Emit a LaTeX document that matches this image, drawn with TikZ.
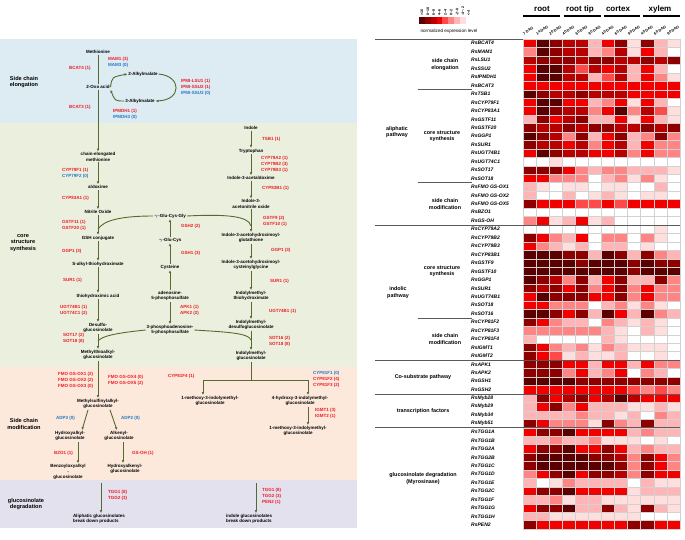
\documentclass[tikz,border=0pt]{standalone}
\usepackage{fontspec}
\setmainfont{Liberation Sans}
\usetikzlibrary{arrows.meta, positioning, calc}
\definecolor{olive}{HTML}{56692E}
\definecolor{enzRed}{HTML}{EC1C24}
\definecolor{enzBlue}{HTML}{2478C0}
\definecolor{elongFill}{HTML}{DDEBF3}
\definecolor{coreFill}{HTML}{EBF0DE}
\definecolor{modFill}{HTML}{FCE9DC}
\definecolor{degFill}{HTML}{E4E1EE}
\definecolor{hm0}{HTML}{5A0000}
\definecolor{hm1}{HTML}{8E0000}
\definecolor{hm2}{HTML}{B80000}
\definecolor{hm3}{HTML}{F20000}
\definecolor{hm4}{HTML}{FF4A4A}
\definecolor{hm5}{HTML}{FF8585}
\definecolor{hm6}{HTML}{FFB5B5}
\definecolor{hm7}{HTML}{FFDEDE}
\definecolor{hm8}{HTML}{FFFFFF}
\definecolor{gridGray}{HTML}{D2D2D2}
\definecolor{ruleGray}{HTML}{5A5A5A}
\def\HX{522.7}
\def\HY{39}
\def\CW{13.1}
\def\RH{8.45}
\def\GX{471}

\begin{document}
\begin{tikzpicture}[
    x=1pt, y=-1pt,
    cmpd/.style={font=\fontsize{4.5}{5.6}\selectfont\bfseries, align=center,
                 inner sep=0.8pt},
    enz/.style={font=\fontsize{4.5}{6}\selectfont\bfseries, align=left,
                inner sep=0pt, anchor=west, text=enzRed},
    flow/.style={-{Latex[length=3pt,width=2.6pt]}, line width=0.9pt, draw=olive},
    joinline/.style={line width=0.9pt, draw=olive},
    stagelbl/.style={font=\fontsize{5.6}{6.8}\selectfont\bfseries, align=center},
    gene/.style={font=\fontsize{5}{6}\selectfont\bfseries\itshape, anchor=west,
                 inner sep=0pt},
    grp/.style={font=\fontsize{5.4}{6.6}\selectfont\bfseries, align=center},
    tissue/.style={font=\fontsize{8}{9}\selectfont\bfseries},
    dag/.style={font=\fontsize{3.8}{4}\selectfont\bfseries, rotate=35,
                anchor=south west, inner sep=0pt},
    lgd/.style={font=\fontsize{3.6}{4}\selectfont\bfseries, rotate=90,
                anchor=west, inner sep=0pt},
    hmcell/.style={draw=gridGray, line width=0.4pt},
    hmrule/.style={draw=ruleGray, line width=0.6pt},
    ]
\useasboundingbox (0,0) rectangle (685,539);
\fill[white] (0,0) rectangle (685,539);

% ====================================================================
% Pathway panel
% ====================================================================
% Stage bands
\fill[elongFill] (0,39) rectangle (357,123);
\fill[coreFill] (0,123) rectangle (357,367);
\fill[modFill] (0,367) rectangle (357,480);
\fill[degFill] (0,480) rectangle (357,528);

\node[stagelbl] (stElong) at (24,82) {Side chain\\elongation};
\node[stagelbl] (stCore) at (23,243) {core\\structure\\synthesis};
\node[stagelbl] (stMod) at (24,424) {Side chain\\modification};
\node[stagelbl] (stDeg) at (26,504) {glucosinolate\\degradation};

% Aliphatic branch
\node[cmpd] (meth) at (98,52) {Methionine};
\node[cmpd] (oxo) at (98,87) {2-Oxo acid};
\node[cmpd] (amal2) at (143,74) {2-Alkylmalate};
\node[cmpd] (amal3) at (140,101) {3-Alkylmalate};
\node[cmpd] (celm) at (98,157) {chain-elongated\\methionine};
\node[cmpd] (aldox) at (98,187) {aldoxime};
\node[cmpd] (nitox) at (98,212) {Nitrile Oxide};
\node[cmpd] (gshc) at (98,238) {GSH conjugate};
\node[cmpd] (salk) at (98,264) {S-alkyl-thiohydroximate};
\node[cmpd] (thacid) at (98,296) {thiohydroximic acid};
\node[cmpd] (desulf) at (98,328) {Desulfo-\\glucosinolate};
\node[cmpd] (mtag) at (98,355) {Methylthioalkyl-\\glucosinolate};
\node[cmpd] (msag) at (98,404) {Methylsulfinylalkyl-\\glucosinolate};
\node[cmpd] (hyag) at (70,436) {Hydroxyalkyl-\\glucosinolate};
\node[cmpd] (alkg) at (119,436) {Alkenyl-\\glucosinolate};
\node[cmpd] (bzag) at (68,472) {Benzoyloxyalkyl\\-\\glucosinolate};
\node[cmpd] (hakg) at (125,469) {Hydroxyalkenyl-\\glucosinolate};
\node[cmpd, align=left, anchor=west] (alibd) at (72,519)
  {Aliphatic glucosinolates\\break down products};

% Co-substrate branch
\node[cmpd] (ggcg) at (170,216) {$\gamma$-Glu-Cys-Gly};
\node[cmpd] (ggc) at (170,240) {$\gamma$-Glu-Cys};
\node[cmpd] (cys) at (170,267) {Cysteine};
\node[cmpd] (aps) at (170,296) {adenosine-\\5-phosphosulfate};
\node[cmpd] (paps) at (170,330) {3-phosphoadenosine-\\5-phosphosulfate};

% Indolic branch
\node[cmpd] (indole) at (251,128) {Indole};
\node[cmpd] (trp) at (251,151) {Tryptophan};
\node[cmpd] (iaox) at (251,178) {Indole-3-acetaldoxime};
\node[cmpd] (ianox) at (251,204) {Indole-3-\\acetonitrile oxide};
\node[cmpd] (iagsh) at (251,238) {Indole-3-acetohydroximoyl-\\glutathione};
\node[cmpd] (iacg) at (251,265) {Indole-3-acetohydroximoyl-\\cysteinylglycine};
\node[cmpd] (imth) at (251,296) {Indolylmethyl-\\thiohydroximate};
\node[cmpd] (imdg) at (251,325) {Indolylmethyl-\\desulfoglucosinolate};
\node[cmpd] (img) at (251,356) {Indolylmethyl-\\glucosinolate};
\node[cmpd] (m1img) at (210,401) {1-methoxy-3-indolymethyl-\\glucosinolate};
\node[cmpd] (h4img) at (300,401) {4-hydroxy-3-indolymethyl-\\glucosinolate};
\node[cmpd] (m4img) at (298,431) {1-methoxy-3-indolymethyl-\\glucosinolate};
\node[cmpd, align=left, anchor=west] (indbd) at (225,519)
  {indole glucosinolates\\break down products};

% Enzymes (gene copy numbers)
\node[enz] (eBCAT4) at (69,68) {BCAT4 (1)};
\node[enz] (eMAM) at (108,62) {MAM1 (3)\\\textcolor{enzBlue}{MAM3 (0)}};
\node[enz] (eIPMI) at (181,87.5)
  {IPMI-LSU1 (1)\\IPMI-SSU2 (1)\\\textcolor{enzBlue}{IPMI-SSU3 (0)}};
\node[enz] (eBCAT3) at (69,107) {BCAT3 (1)};
\node[enz] (eIPMDH) at (113,114.5) {IPMDH1 (1)\\\textcolor{enzBlue}{IPMDH3 (0)}};
\node[enz] (eCYP79F) at (62,173.5) {CYP79F1 (1)\\\textcolor{enzBlue}{CYP79F2 (0)}};
\node[enz] (eCYP83A1) at (62,198) {CYP83A1 (1)};
\node[enz] (eGSTFa) at (62,225) {GSTF11 (1)\\GSTF20 (1)};
\node[enz] (eGGPa) at (62,251) {GGP1 (3)};
\node[enz] (eSURa) at (63,280) {SUR1 (1)};
\node[enz] (eUGTa) at (60,310.5) {UGT74B1 (1)\\UGT74C1 (2)};
\node[enz] (eSOTa) at (63,338.5) {SOT17 (2)\\SOT18 (8)};
\node[enz] (eGSH2) at (181,226) {GSH2 (2)};
\node[enz] (eGSH1) at (181,253) {GSH1 (3)};
\node[enz] (eAPK) at (180,310.5) {APK1 (1)\\APK2 (2)};
\node[enz] (eTSB1) at (262,139) {TSB1 (1)};
\node[enz] (eCYP79B) at (261,164) {CYP79A2 (1)\\CYP79B2 (3)\\CYP79B3 (1)};
\node[enz] (eCYP83B1) at (262,188) {CYP83B1 (1)};
\node[enz] (eGSTFi) at (263,221) {GSTF9 (2)\\GSTF10 (1)};
\node[enz] (eGGPi) at (271,250) {GGP1 (3)};
\node[enz] (eSURi) at (270,281) {SUR1 (1)};
\node[enz] (eUGTi) at (269,311) {UGT74B1 (1)};
\node[enz] (eSOTi) at (269,341) {SOT16 (2)\\SOT18 (8)};
\node[enz] (eCYP81F4) at (168,376) {CYP81F4 (1)};
\node[enz] (eCYP81F) at (313,379)
  {\textcolor{enzBlue}{CYP81F1 (0)}\\CYP81F2 (4)\\CYP81F3 (2)};
\node[enz] (eIGMT) at (315,413) {IGMT1 (3)\\IGMT2 (1)};
\node[enz] (eFMOa) at (58,380.5) {FMO GS-OX1 (2)\\FMO GS-OX2 (2)\\FMO GS-OX3 (0)};
\node[enz] (eFMOb) at (108,380) {FMO GS-OX4 (0)\\FMO GS-OX5 (2)};
\node[enz, text=enzBlue] (eADP3) at (56,418) {ADP3 (0)};
\node[enz, text=enzBlue] (eADP2) at (121,418) {ADP2 (0)};
\node[enz] (eBZO1) at (54,453) {BZO1 (1)};
\node[enz] (eGSOH) at (132,453) {GS-OH (1)};
\node[enz] (eTGGa) at (108,495) {TGG1 (8)\\TGG2 (3)};
\node[enz] (eTGGi) at (262,496) {TGG1 (8)\\TGG2 (3)\\PEN2 (1)};

% Junction points
\coordinate (jA) at (98,229);
\coordinate (jB) at (98,341);
\coordinate (jC) at (251,226);
\coordinate (jD) at (251,340);
\coordinate (brc) at (251,380);
\coordinate (brl) at (203,380);
\coordinate (brr) at (308,380);
\coordinate (bzx) at (78,0);
\coordinate (hkx) at (123,0);
\coordinate (alideg) at (101,483);
\coordinate (inddeg) at (256,483);

% Aliphatic arrows
\draw[joinline] (meth) -- (oxo);
\draw[flow] (oxo) -- (celm);
\draw[flow] (oxo.east) .. controls (112,77) .. (amal2.west);
\draw[flow] (amal2.east) .. controls (182,76) and (182,100) .. (amal3.east);
\draw[flow] (amal3.west) .. controls (115,101) .. (oxo.south east);
\draw[flow] (celm) -- (aldox);
\draw[flow] (aldox) -- (nitox);
\draw[flow] (nitox) -- (gshc);
\draw[flow] (gshc) -- (salk);
\draw[flow] (salk) -- (thacid);
\draw[flow] (thacid) -- (desulf);
\draw[flow] (desulf) -- (mtag);
\draw[flow] (mtag) -- (msag);
\draw[flow] ($(msag.south)+(-10,0)$) -- ($(hyag.north)+(12,0)$);
\draw[flow] ($(msag.south)+(12,0)$) -- ($(alkg.north)+(-2,0)$);
\draw[flow] (hyag.south -| bzx) -- (bzx |- bzag.north);
\draw[flow] (alkg.south -| hkx) -- (hkx |- hakg.north);
\draw[flow] (alideg) -- (alideg |- alibd.north);

% Co-substrate arrows and links
\draw[flow] (cys) -- (ggc);
\draw[flow] (ggc) -- (ggcg);
\draw[flow] (aps) -- (cys);
\draw[flow] (aps) -- (paps);
\draw[joinline] (ggcg.west) .. controls (122,216) and (104,220) .. (jA);
\draw[joinline] (ggcg.east) .. controls (226,214) and (249,216) .. (jC);
\draw[joinline] (paps.west) .. controls (116,333) and (102,336) .. (jB);
\draw[joinline] (paps.east) .. controls (226,332) and (249,333) .. (jD);

% Indolic arrows
\draw[flow] (indole) -- (trp);
\draw[flow] (trp) -- (iaox);
\draw[flow] (iaox) -- (ianox);
\draw[flow] (ianox) -- (iagsh);
\draw[flow] (iagsh) -- (iacg);
\draw[flow] (iacg) -- (imth);
\draw[flow] (imth) -- (imdg);
\draw[flow] (imdg) -- (img);
\draw[joinline] (img) -- (brc);
\draw[joinline] (brl) -- (brr);
\draw[flow] (brl) -- (brl |- m1img.north);
\draw[flow] (brr) -- (brr |- h4img.north);
\draw[flow] (h4img.south -| brr) -- (brr |- m4img.north);
\draw[flow] (inddeg) -- (inddeg |- indbd.north);

% ====================================================================
% Heatmap panel
% ====================================================================
% Tissue headers
\node[tissue] (tRoot) at (542,9) {root};
\node[tissue] (tTip) at (580,9) {root tip};
\node[tissue] (tCortex) at (618,9) {cortex};
\node[tissue] (tXylem) at (660,9) {xylem};
\draw[line width=2.5pt] (523,16) -- (560,16);
\draw[line width=2.5pt] (563.5,16) -- (601,16);
\draw[line width=2.5pt] (603.5,16) -- (640,16);
\draw[line width=2.5pt] (642.5,16) -- (679.5,16);

\foreach \t [count=\k from 0] in {7 DAG,14 DAG,20 DAG,40 DAG,60 DAG,90 DAG,
                                  40 DAG,60 DAG,90 DAG,40 DAG,60 DAG,90 DAG}
  \node[dag] (dag\k) at ({\HX+\k*\CW+1.5},35.5) {\t};

% Colour key
\foreach \i in {0,...,8}
  \fill[hm\i] ({419+\i*5.85},17.3) rectangle ++(5.85,7);
\foreach \t [count=\i from 0] in {>10,8\textasciitilde10,6\textasciitilde8,
    4\textasciitilde6,2\textasciitilde4,0\textasciitilde2,-2\textasciitilde0,
    -4\textasciitilde-2,<-4}
  \node[lgd] (lg\i) at ({419+(\i+0.5)*5.85},15.5) {\t};
\node[font=\fontsize{4.6}{5}\selectfont] (nel) at (449,31)
  {normalized expression level};

% Cells (0 = highest level, 8 = lowest)
\foreach \g/\v [count=\r from 0] in {
  RsBCAT4/{3,0,1,2,2,6,3,1,7,1,6,7},
  RsMAM1/{5,0,1,2,2,6,5,2,7,3,6,8},
  RsLSU1/{2,1,1,1,2,1,1,2,2,1,2,1},
  RsSSU2/{3,0,0,2,4,2,3,2,6,3,6,8},
  RsIPMDH1/{3,0,0,2,2,6,4,2,6,3,5,7},
  RsBCAT3/{3,3,3,3,3,3,3,3,3,3,3,3},
  RsTSB1/{0,1,2,2,1,2,2,2,3,3,3,3},
  RsCYP79F1/{3,0,0,3,3,6,5,3,7,3,6,8},
  RsCYP83A1/{3,0,1,2,2,5,3,0,5,2,4,7},
  RsGSTF11/{6,1,3,2,1,6,6,3,7,3,6,7},
  RsGSTF20/{1,2,2,1,2,1,1,2,2,1,2,1},
  RsGGP1/{0,1,2,5,1,6,3,1,6,5,1,5},
  RsSUR1/{1,2,2,3,2,5,3,2,6,3,5,5},
  RsUGT74B1/{3,0,1,2,2,3,3,2,5,3,5,5},
  RsUGT74C1/{8,8,7,8,8,8,8,8,8,8,8,8},
  RsSOT17/{1,1,1,3,5,6,5,5,6,6,6,7},
  RsSOT18/{3,3,5,5,5,8,6,5,7,5,7,8},
  RsFMO GS-OX1/{6,7,8,7,7,8,7,7,8,8,6,8},
  RsFMO GS-OX2/{6,8,8,6,8,7,6,7,8,7,7,8},
  RsFMO GS-OX5/{1,3,3,3,4,4,3,4,3,3,3,3},
  RsBZO1/{8,8,8,8,8,8,8,8,8,8,8,8},
  RsGS-OH/{5,3,7,6,3,7,6,8,8,8,8,8},
  RsCYP79A2/{8,8,8,8,8,8,8,8,8,8,7,8},
  RsCYP79B2/{1,3,5,6,3,8,5,5,8,5,7,8},
  RsCYP79B3/{3,5,6,7,6,8,6,6,8,7,8,8},
  RsCYP83B1/{0,0,0,1,1,6,0,1,6,1,5,6},
  RsGSTF9/{0,0,0,0,1,0,0,0,1,0,1,1},
  RsGSTF10/{0,0,0,0,0,0,0,0,1,0,0,0},
  RsGGP1/{0,1,2,5,1,6,3,1,6,6,1,5},
  RsSUR1/{1,2,1,3,1,5,3,1,5,3,5,5},
  RsUGT74B1/{3,0,1,1,1,3,3,1,5,3,5,5},
  RsSOT18/{3,3,5,5,5,8,6,5,7,5,7,8},
  RsSOT16/{0,0,1,3,1,6,0,3,6,0,5,6},
  RsCYP81F2/{1,3,5,6,6,8,5,6,7,6,7,8},
  RsCYP81F3/{5,5,5,5,5,5,6,7,8,6,7,8},
  RsCYP81F4/{6,8,8,8,8,8,6,7,8,8,8,8},
  RsIGMT1/{1,3,5,6,5,7,5,6,7,7,7,8},
  RsIGMT2/{1,3,4,7,6,7,7,6,8,8,7,8},
  RsAPK1/{1,1,1,3,3,6,3,3,6,3,5,5},
  RsAPK2/{1,1,1,5,3,6,5,3,8,5,6,8},
  RsGSH1/{0,0,0,0,1,1,1,1,1,1,1,1},
  RsGSH2/{3,3,3,3,3,3,3,3,4,5,4,5},
  RsMyb28/{6,1,3,2,1,3,2,0,2,3,3,3},
  RsMyb29/{6,3,1,5,3,6,6,6,7,7,6,7},
  RsMyb34/{6,6,6,6,5,6,6,7,6,8,5,6},
  RsMyb51/{1,3,5,5,5,7,1,5,6,1,6,6},
  RsTGG1A/{3,1,1,0,3,3,3,3,6,5,6,6},
  RsTGG1B/{6,6,5,6,6,5,7,7,7,8,7,8},
  RsTGG2A/{3,1,1,0,3,3,1,3,6,5,6,6},
  RsTGG2B/{1,0,0,0,0,1,1,2,5,1,3,5},
  RsTGG1C/{1,0,0,0,0,0,0,1,5,1,3,5},
  RsTGG1D/{5,3,1,0,3,1,1,2,5,1,3,3},
  RsTGG1E/{6,8,7,5,6,6,6,6,8,6,7,7},
  RsTGG2C/{3,1,1,0,3,3,3,3,7,6,6,6},
  RsTGG1F/{6,6,5,7,6,6,7,7,7,7,7,7},
  RsTGG1G/{3,1,1,0,6,6,1,6,7,1,6,7},
  RsTGG1H/{6,6,7,7,7,7,7,7,7,8,8,8},
  RsPEN2/{1,3,3,3,3,3,3,3,1,1,3,3}}{
  \node[gene] (g\r) at (\GX,{\HY+(\r+0.5)*\RH}) {\g};
  \foreach \c [count=\k from 0] in \v
    \filldraw[hmcell, fill=hm\c] ({\HX+\k*\CW},{\HY+\r*\RH}) rectangle ++(\CW,\RH);
}

% Group rules
\draw[hmrule] (375,\HY) -- (\HX,\HY);
\foreach \r in {22,38,42,46}
  \draw[hmrule] (375,{\HY+\r*\RH}) -- (680,{\HY+\r*\RH});
\foreach \r in {6,17,33}
  \draw[hmrule] (418,{\HY+\r*\RH}) -- (472,{\HY+\r*\RH});

% Group labels
\node[grp] (hAli) at (397,{\HY+11*\RH}) {aliphatic\\pathway};
\node[grp] (hAliElong) at (445,{\HY+3*\RH}) {side chain\\elongation};
\node[grp] (hAliCore) at (442,{\HY+11.5*\RH}) {core structure\\synthesis};
\node[grp] (hAliMod) at (445,{\HY+19.5*\RH}) {side chain\\modification};
\node[grp] (hInd) at (398,{\HY+30*\RH}) {indolic\\pathway};
\node[grp] (hIndCore) at (442,{\HY+27.5*\RH}) {core structure\\synthesis};
\node[grp] (hIndMod) at (445,{\HY+35.5*\RH}) {side chain\\modification};
\node[grp] (hCosub) at (423,{\HY+40*\RH}) {Co-substrate pathway};
\node[grp] (hTF) at (423,{\HY+44*\RH}) {transcription factors};
\node[grp] (hDeg) at (423,{\HY+52*\RH}) {glucosinolate degradation\\(Myrosinase)};

\end{tikzpicture}
\end{document}
